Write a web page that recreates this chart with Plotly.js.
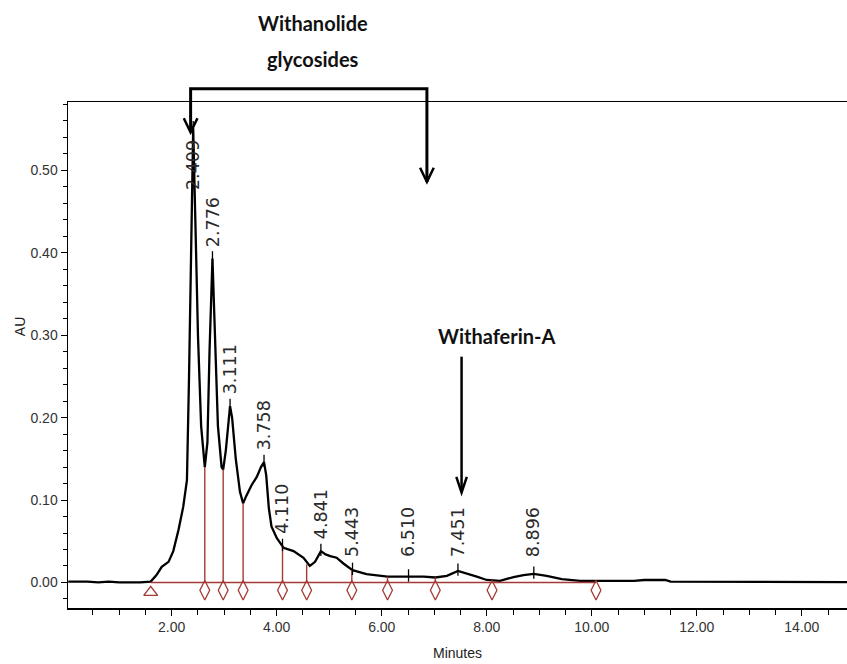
<!DOCTYPE html>
<html>
<head>
<meta charset="utf-8">
<script src="https://cdn.plot.ly/plotly-3.0.1.min.js"></script>
<style>html,body{margin:0;padding:0;background:#fff;}#chart{width:847px;height:664px;}</style>
</head>
<body>
<div id="chart"></div>
<script>
// Chromatogram trace (minutes, AU)
const timeMin = [0.03,0.2,0.4,0.6,0.8,1.0,1.2,1.4,1.6,1.71,1.81,1.94,2.03,2.13,2.22,2.29,2.33,2.37,2.409,2.45,2.50,2.56,2.63,2.68,2.72,2.776,2.82,2.88,2.95,2.98,3.03,3.08,3.111,3.15,3.22,3.30,3.36,3.42,3.52,3.62,3.70,3.758,3.80,3.85,3.90,4.00,4.13,4.32,4.51,4.63,4.73,4.841,4.93,5.02,5.14,5.27,5.443,5.71,6.11,6.51,6.80,7.02,7.24,7.451,7.62,7.81,8.00,8.25,8.51,8.70,8.896,9.14,9.43,9.78,10.3,10.8,11.0,11.4,11.5,12.5,13.3,13.4,14.0,14.86];
const absorbance = [0.001,0.001,0.001,0.000,0.001,0.000,0.000,0.000,0.001,0.009,0.019,0.025,0.038,0.064,0.092,0.124,0.25,0.42,0.551,0.44,0.30,0.19,0.140,0.17,0.28,0.393,0.30,0.19,0.140,0.137,0.16,0.20,0.214,0.20,0.15,0.11,0.096,0.105,0.118,0.128,0.140,0.146,0.13,0.09,0.068,0.054,0.042,0.038,0.030,0.020,0.025,0.038,0.034,0.032,0.030,0.023,0.015,0.010,0.007,0.007,0.007,0.006,0.008,0.014,0.011,0.007,0.003,0.002,0.0065,0.009,0.0105,0.008,0.004,0.002,0.002,0.002,0.003,0.003,0.001,0.001,0.001,0.0005,0.0005,0.0005];

// Labelled peaks
const peakRT = [2.409,2.776,3.111,3.758,4.110,4.841,5.443,6.510,7.451,8.896];
const peakAU = [0.551,0.393,0.214,0.146,0.044,0.038,0.015,0.007,0.014,0.0105];
const peakLabels = ["2.409","2.776","3.111","3.758","4.110","4.841","5.443","6.510","7.451","8.896"];

// Integration: start marker, drop lines / end markers
const startRT = [1.60];
const dropRT = [2.63,2.98,3.36,4.11,4.57,5.43,6.11,7.02,8.10,10.08];
const dropAU = [0.140,0.137,0.096,0.046,0.022,0.015,0.007,0.006,0.002,0.001];

// Tick/annotation texts
const xTitle = "Minutes";
const yTitle = "AU";
const groupLabel = ["Withanolide","glycosides"];
const compoundLabel = "Withaferin-A";

const RED = "#a23b35";
const sans = "Liberation Sans, Arial, sans-serif";
const wide = "DejaVu Sans, Verdana, sans-serif";
const bold = "Lato, Liberation Sans, sans-serif";

// Drop lines
const dx = [], dy = [];
dropRT.forEach((t,i)=>{ dx.push(t,t,null); dy.push(0,dropAU[i],null); });
// Peak ticks
const tx = [], ty = [];
peakRT.forEach((t,i)=>{ tx.push(t,t,null); ty.push(peakAU[i]-0.006,peakAU[i]+0.009,null); });

const traces = [
  {x: timeMin, y: absorbance, mode:'lines', line:{color:'#000', width:2.3}, hoverinfo:'skip'},
  {x: [startRT[0], dropRT[dropRT.length-1]], y:[0,0], mode:'lines', line:{color:RED, width:1.4}, hoverinfo:'skip'},
  {x: dx, y: dy, mode:'lines', line:{color:RED, width:1.4}, hoverinfo:'skip'},
  {x: tx, y: ty, mode:'lines', line:{color:'#000', width:1.3}, hoverinfo:'skip'},
  {x: dropRT, y: dropRT.map(()=>-0.0095), mode:'markers', marker:{symbol:'diamond-tall-open', size:14, color:RED, line:{width:1.3, color:RED}}, hoverinfo:'skip'},
  {x: startRT, y: [-0.012], mode:'markers', marker:{symbol:'triangle-up-open', size:12, color:RED, line:{width:1.4, color:RED}}, hoverinfo:'skip'}
];

const annotations = peakRT.map((t,i)=>({
  x: t, y: Math.min(Math.max(peakAU[i]+0.012, 0.028), 0.474), xref:'x', yref:'y',
  text: peakLabels[i], textangle:-90, showarrow:false, xanchor:'center', yanchor:'bottom',
  font:{family:wide, size:17.5, color:'#2a2a2a'}
}));
annotations.push(
  {x:0.3139, y:1.157, xref:'paper', yref:'paper', xanchor:'center', yanchor:'middle', text:groupLabel[0], showarrow:false, font:{family:bold, size:20, color:'#111', weight:'bold'}},
  {x:0.3139, y:1.084, xref:'paper', yref:'paper', xanchor:'center', yanchor:'middle', text:groupLabel[1], showarrow:false, font:{family:bold, size:20, color:'#111', weight:'bold'}},
  {x:8.19, y:0.299, xref:'x', yref:'y', xanchor:'center', yanchor:'middle', text:compoundLabel, showarrow:false, font:{family:bold, size:20, color:'#111', weight:'bold'}},
  {x:-0.0616, y:0.555, xref:'paper', yref:'paper', xanchor:'center', yanchor:'middle', text:yTitle, textangle:-90, showarrow:false, font:{family:sans, size:14, color:'#222'}}
);

const bx1 = 2.36, bx2 = 6.86, wx = 7.52;
const shapes = [
  {type:'path', xref:'x', yref:'paper', path:`M ${bx1} 0.940 L ${bx1} 1.026 L ${bx2} 1.026 L ${bx2} 0.842`, line:{color:'#000', width:3}},
  {type:'path', xref:'x', yref:'paper', path:`M ${bx1-0.13} 0.968 L ${bx1} 0.940 L ${bx1+0.13} 0.968`, line:{color:'#000', width:2.5}},
  {type:'path', xref:'x', yref:'paper', path:`M ${bx2-0.13} 0.870 L ${bx2} 0.842 L ${bx2+0.13} 0.870`, line:{color:'#000', width:2.5}},
  {type:'line', xref:'x', yref:'y', x0:wx, x1:wx, y0:0.274, y1:0.111, line:{color:'#000', width:2.5}},
  {type:'path', xref:'x', yref:'y', path:`M ${wx-0.1} 0.128 L ${wx} 0.109 L ${wx+0.1} 0.128`, line:{color:'#000', width:2.5}}
];

const layout = {
  width:847, height:664,
  margin:{l:68, r:0, t:101.5, b:56},
  paper_bgcolor:'#fff', plot_bgcolor:'#fff',
  showlegend:false,
  xaxis:{range:[0.025,14.86], tick0:0, dtick:2, tickformat:'.2f', ticks:'outside', ticklen:6, tickcolor:'#000',
    minor:{dtick:0.5, ticks:'outside', ticklen:5, tickcolor:'#000'},
    showline:true, linecolor:'#000', linewidth:1.5, mirror:true, showgrid:false, zeroline:false,
    tickfont:{family:sans, size:14, color:'#333'},
    title:{text:xTitle, font:{family:sans, size:14, color:'#222'}, standoff:14}},
  yaxis:{range:[-0.031,0.583], tick0:0, dtick:0.1, tickformat:'.2f', ticks:'outside', ticklen:6, tickcolor:'#000',
    minor:{dtick:0.02, ticks:'outside', ticklen:4, tickcolor:'#000'},
    showline:true, linecolor:'#000', linewidth:1.5, showgrid:false, zeroline:false,
    tickfont:{family:sans, size:14, color:'#333'}},
  annotations: annotations,
  shapes: shapes
};
Plotly.newPlot('chart', traces, layout, {staticPlot:true, displayModeBar:false});
</script>
</body>
</html>
